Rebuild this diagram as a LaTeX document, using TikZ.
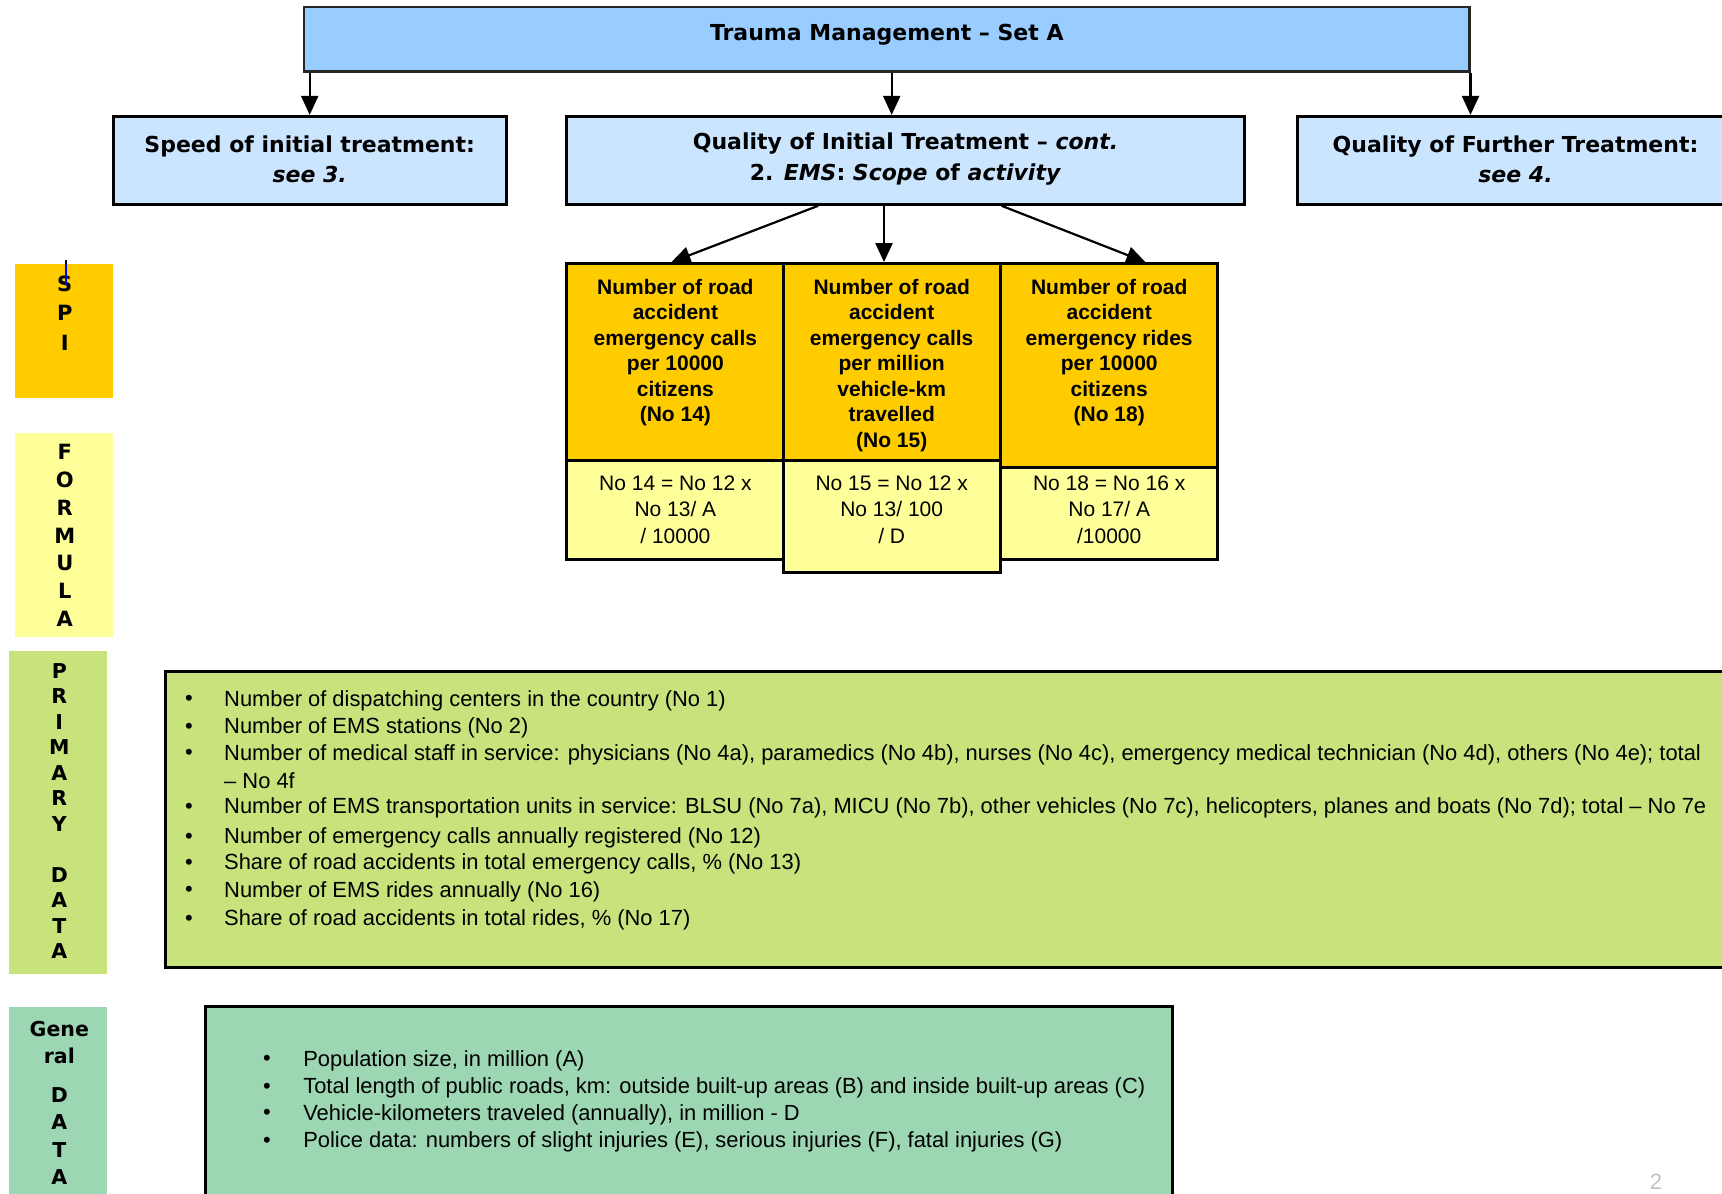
\documentclass[tikz,border=0pt]{standalone}
\usepackage{fontspec}
\setmainfont{Liberation Sans}
\newfontfamily\dvs{DejaVu Sans}
\usetikzlibrary{arrows.meta,fit,calc}
\definecolor{topblue}{HTML}{99CCFF}
\definecolor{lblue}{HTML}{CCE5FF}
\definecolor{orng}{HTML}{FFCC00}
\definecolor{lyel}{HTML}{FFFF99}
\definecolor{lgreen}{HTML}{C8E27C}
\definecolor{tealg}{HTML}{9CD6B2}
\definecolor{pggray}{HTML}{C0C0C0}
\tikzset{
  boxbase/.style={draw=black, line width=3pt, inner sep=0pt},
  lvlzero/.style={boxbase, fill=topblue, line width=2.2pt, draw=black!85},
  lvlone/.style={boxbase, fill=lblue},
  kpibox/.style={boxbase, fill=orng},
  fmlbox/.style={boxbase, fill=lyel},
  sidebox/.style={inner sep=0pt, draw=none},
  arr/.style={line width=2.2pt, -{Triangle[width=17pt,length=19pt]}},
  tzero/.style={font=\dvs\bfseries\fontsize{22}{30.7}\selectfont, align=center, inner sep=0pt},
  tkpi/.style={font=\bfseries\fontsize{21}{25.5}\selectfont, align=center, inner sep=0pt},
  tfml/.style={font=\fontsize{21}{26.4}\selectfont, align=center, inner sep=0pt},
  tbul/.style={font=\fontsize{21.9}{26.5}\selectfont, anchor=west, inner sep=0pt},
  bulmark/.style={font=\fontsize{21.9}{26.5}\selectfont, inner sep=0pt},
  sidetxt/.style={align=center, inner sep=0pt},
}
\begin{document}
\begin{tikzpicture}[x=1pt,y=-1pt]
\useasboundingbox (0,0) rectangle (1722,1194);
\clip (0,0) rectangle (1722,1194);

% top level
\node[lvlzero, fit={(304.2,6.6) (1469.4,71.4)}] (top) {};
\node[tzero] (toptxt) at (886.8,35) {Trauma Management – Set A};

% second level
\node[lvlone, fit={(113.1,116.4) (506.3,204.3)}] (spd) {};
\node[lvlone, fit={(566.7,116.4) (1244.3,204.3)}] (qi) {};
\node[lvlone, fit={(1297,116.4) (1734,204.3)}] (qf) {};
\node[tzero] (spdt) at ([yshift=1pt]spd.center) {Speed of initial treatment:\\\textit{see 3.}};
\node[tzero] (qit) at ([yshift=1pt]qi.center) {Quality of Initial Treatment – \textit{cont.}\\2. \textit{EMS}: \textit{Scope} of \textit{activity}};
\node[tzero] (qft) at ([yshift=1pt]qf.center) {Quality of Further Treatment:\\\textit{see 4.}};

% side labels
\node[sidebox, fill=orng, fit={(15.4,263.6) (113.1,397.5)}] (spibox) {};
\node[sidebox, fill=lyel, fit={(15.4,432.7) (113.1,637)}] (fmlside) {};
\node[sidebox, fill=lgreen, fit={(8.8,651.2) (106.5,974)}] (primside) {};
\node[sidebox, fill=tealg, fit={(8.8,1007) (106.5,1200)}] (genside) {};

\node[sidetxt, font=\dvs\bfseries\fontsize{21}{29.6}\selectfont] (spit) at (64.8,313) {S\\P\\I};
\node[sidetxt, font=\dvs\bfseries\fontsize{21}{27.7}\selectfont] (fmlt) at (64.8,535.4) {F\\O\\R\\M\\U\\L\\A};
\node[sidetxt, font=\dvs\bfseries\fontsize{20.5}{25.5}\selectfont] (primt) at (59.3,811) {P\\R\\I\\M\\A\\R\\Y\\[25.5pt]D\\A\\T\\A};
\node[sidetxt, font=\dvs\bfseries\fontsize{20.5}{27.3}\selectfont] (gent) at (59.3,1102.7) {Gene\\ral\\[12pt]D\\A\\T\\A};

% cursor artifact on SPI label
\coordinate (cura) at (65.8,260);
\coordinate (curb) at (65.8,264);
\coordinate (curc) at (65.8,285);
\draw[line width=2.2pt] (cura) -- (curb);
\draw[blue, line width=2.2pt] (curb) -- (curc);

% KPI columns
\node[kpibox, fit={(566.7,263.6) (783,460.1)}] (o1) {};
\node[fmlbox, fit={(566.7,460.1) (783,559)}] (y1) {};
\node[kpibox, fit={(783,263.6) (1000.5,460.1)}] (o2) {};
\node[fmlbox, fit={(783,460.1) (1000.5,572.2)}] (y2) {};
\node[kpibox, fit={(1000.5,263.6) (1217.9,467.8)}] (o3) {};
\node[fmlbox, fit={(1000.5,467.8) (1217.9,559)}] (y3) {};

\node[tkpi] (o1t) at (675.4,352.5) {Number of road\\accident\\emergency calls\\per 10000\\citizens\\(No 14)};
\node[tkpi] (o2t) at (891.7,365.2) {Number of road\\accident\\emergency calls\\per million\\vehicle-km\\travelled\\(No 15)};
\node[tkpi] (o3t) at (1109.2,352.5) {Number of road\\accident\\emergency rides\\per 10000\\citizens\\(No 18)};

\node[tfml] (y1t) at (675.4,509.5) {No 14 = No 12 x\\No 13/ A\\/ 10000};
\node[tfml] (y2t) at (891.7,509.5) {No 15 = No 12 x\\No 13/ 100\\/ D};
\node[tfml] (y3t) at (1109.2,509.5) {No 18 = No 16 x\\No 17/ A\\/10000};

% connectors
\draw[arr] (spd.north |- top.south) -- (spd.north);
\coordinate (qiin) at ([xshift=-13.8pt]qi.north);
\draw[arr] (qiin |- top.south) -- (qiin);
\draw[arr] (top.south east) -- (top.south east |- qf.north);

\coordinate (sa) at ([xshift=-87.3pt]qi.south);
\coordinate (ea) at ([xshift=-3.4pt]o1.north);
\draw[arr] (sa) -- (ea);
\coordinate (sb) at ([xshift=-21.5pt]qi.south);
\draw[arr] (sb) -- (sb |- o2.north);
\coordinate (sc) at ([xshift=96.1pt]qi.south);
\coordinate (ec) at ([xshift=36.2pt]o3.north);
\draw[arr] (sc) -- (ec);

% primary data
\node[boxbase, fill=lgreen, fit={(165.8,671) (1735,967.5)}] (prim) {};
\foreach \yy/\nm in {700.7/pa,728.1/pb,754.5/pc,808.3/pd,837.9/pe,864.3/pf,891.7/pg,920.3/ph}{
  \node[bulmark] (\nm) at (188.9,\yy) {•};
}
\node[tbul] (pta) at (224,700.7) {Number of dispatching centers in the country (No 1)};
\node[tbul] (ptb) at (224,728.1) {Number of EMS stations (No 2)};
\node[tbul] (ptc) at (224,754.5) {Number of medical staff in service: physicians (No 4a), paramedics (No 4b), nurses (No 4c), emergency medical technician (No 4d), others (No 4e); total};
\node[tbul] (ptcc) at (224,780.8) {– No 4f};
\node[tbul] (ptd) at (224,808.3) {Number of EMS transportation units in service: BLSU (No 7a), MICU (No 7b), other vehicles (No 7c), helicopters, planes and boats (No 7d); total – No 7e};
\node[tbul] (pte) at (224,837.9) {Number of emergency calls annually registered (No 12)};
\node[tbul] (ptf) at (224,864.3) {Share of road accidents in total emergency calls, \% (No 13)};
\node[tbul] (ptg) at (224,891.7) {Number of EMS rides annually (No 16)};
\node[tbul] (pth) at (224,920.3) {Share of road accidents in total rides, \% (No 17)};

% general data
\node[boxbase, fill=tealg, fit={(205.4,1006) (1172.9,1205)}] (gen) {};
\foreach \yy/\nm in {1060.8/ga,1088.2/gb,1114.6/gc,1142/gd}{
  \node[bulmark] (\nm) at (266.9,\yy) {•};
}
\node[tbul] (gta) at (303.1,1060.8) {Population size, in million (A)};
\node[tbul] (gtb) at (303.1,1088.2) {Total length of public roads, km: outside built-up areas (B) and inside built-up areas (C)};
\node[tbul] (gtc) at (303.1,1114.6) {Vehicle-kilometers traveled (annually), in million - D};
\node[tbul] (gtd) at (303.1,1142) {Police data: numbers of slight injuries (E), serious injuries (F), fatal injuries (G)};

% page number
\node[text=pggray, font=\fontsize{22}{26}\selectfont, inner sep=0pt] (pgnum) at (1656,1181.6) {2};
\end{tikzpicture}
\end{document}
